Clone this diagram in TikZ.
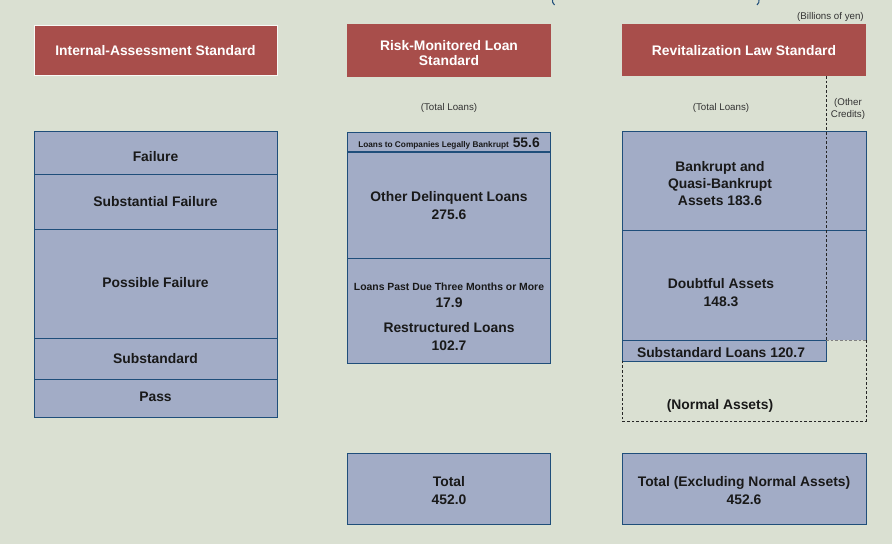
\documentclass[tikz,border=0pt]{standalone}
\usepackage{fontspec}
\setmainfont{Liberation Sans}
\definecolor{bgcol}{HTML}{DAE0D2}
\definecolor{hdrfill}{HTML}{A84E4B}
\definecolor{cellfill}{HTML}{A2ACC6}
\definecolor{cellline}{HTML}{1F4E7A}

\begin{document}
\begin{tikzpicture}[%
x=0.75pt, y=-0.75pt,
hdr/.style={fill=hdrfill, draw=none},
cell/.style={fill=cellfill, draw=cellline, line width=0.75pt},
lbl/.style={font=\fontsize{10.4}{13}\selectfont\bfseries, align=center, inner sep=0pt, text depth=0pt, text=black!90},
hlbl/.style={lbl, text=white, font=\fontsize{10.4}{11.5}\selectfont\bfseries},
note/.style={font=\fontsize{7.3}{9}\selectfont, align=center, inner sep=0pt, text=black!80},
frame/.style={draw=black!85, line width=0.6pt, dash pattern=on 2pt off 1.5pt}]%Pixel grid, y runs downwards
\useasboundingbox (0,0) rectangle (892,544);
\fill[bgcol] (0,0) rectangle (892,544);
% cut-off title brackets at the top edge
\draw[cellline, line width=0.8pt] (552.5,0) .. controls (552.5,2.5) .. (554.5,5);
\draw[cellline, line width=0.8pt] (759,0) .. controls (759,2.5) .. (757,5);

% headers
\draw[hdr, draw=white!80!bgcol, line width=0.6pt] (34,25) rectangle (277,75);
\fill[hdrfill] (347,24) rectangle (551,77);
\fill[hdrfill] (622,24) rectangle (866,76);
\node[hlbl] (hdrint) at (155.5,50) {Internal-Assessment Standard};
\node[hlbl] (hdrrisk) at (449,53) {Risk-Monitored Loan\\Standard};
\node[hlbl] (hdrrev) at (744,50) {Revitalization Law Standard};

% notes
\node[note, anchor=east] (unit) at (864,17) {(Billions of yen)};
\node[note] (totl1) at (449,108) {(Total Loans)};
\node[note] (totl2) at (721,108) {(Total Loans)};
\node[note] (other) at (848,109) {(Other\\Credits)};

% internal-assessment column
\draw[cell] (34,131) rectangle (277,417);
\foreach \yy in {174,229,338,379} \draw[cellline, line width=0.75pt] (34,\yy) -- (277,\yy);
\node[lbl] (fail) at (155.5,156) {Failure};
\node[lbl] (subfail) at (155.5,201) {Substantial Failure};
\node[lbl] (possfail) at (155.5,282) {Possible Failure};
\node[lbl] (substd) at (155.5,358) {Substandard};
\node[lbl] (pass) at (155.5,397) {Pass};

% risk-monitored column
\draw[cell] (347,132) rectangle (550,363);
\draw[cellline, line width=1.2pt] (347,152) -- (550,152);
\draw[cellline, line width=0.75pt] (347,258) -- (550,258);
\node[lbl] (bkr) at (449,143) {{\fontsize{6.2}{7}\selectfont Loans to Companies Legally Bankrupt} 55.6};
\node[lbl] (othdel) at (449,205.5) {Other Delinquent Loans\\275.6};
\node[lbl, font=\fontsize{7.8}{9}\selectfont\bfseries] (pastdue) at (449,287) {Loans Past Due Three Months or More};
\node[lbl] (pastval) at (449,303) {17.9};
\node[lbl] (restr) at (449,336.5) {Restructured Loans\\102.7};

% revitalization column
\fill[cellfill] (622,131) rectangle (866,340);
\draw[cellline, line width=0.75pt] (622,340) -- (622,131) -- (866,131) -- (866,340);
\draw[cellline, line width=0.75pt] (622,230) -- (866,230);
\draw[cell] (622,340) rectangle (826,361);
\draw[frame] (826,76) -- (826,340);
\draw[frame, draw=black!50] (826,340.5) -- (866,340.5);
\draw[frame] (866,340) -- (866,421) -- (622,421) -- (622,361);
\node[lbl] (bankq) at (720,183.5) {Bankrupt and\\Quasi-Bankrupt\\Assets 183.6};
\node[lbl] (doubt) at (721,292.5) {Doubtful Assets\\148.3};
\node[lbl] (subloans) at (721,352) {Substandard Loans 120.7};
\node[lbl] (normal) at (720,404) {(Normal Assets)};

% totals
\draw[cell] (347,453) rectangle (550,524);
\draw[cell] (622,453) rectangle (866,524);
\node[lbl] (totmid) at (449,490.5) {Total\\452.0};
\node[lbl] (totright) at (744,490.5) {Total (Excluding Normal Assets)\\452.6};
\end{tikzpicture}
\end{document}
